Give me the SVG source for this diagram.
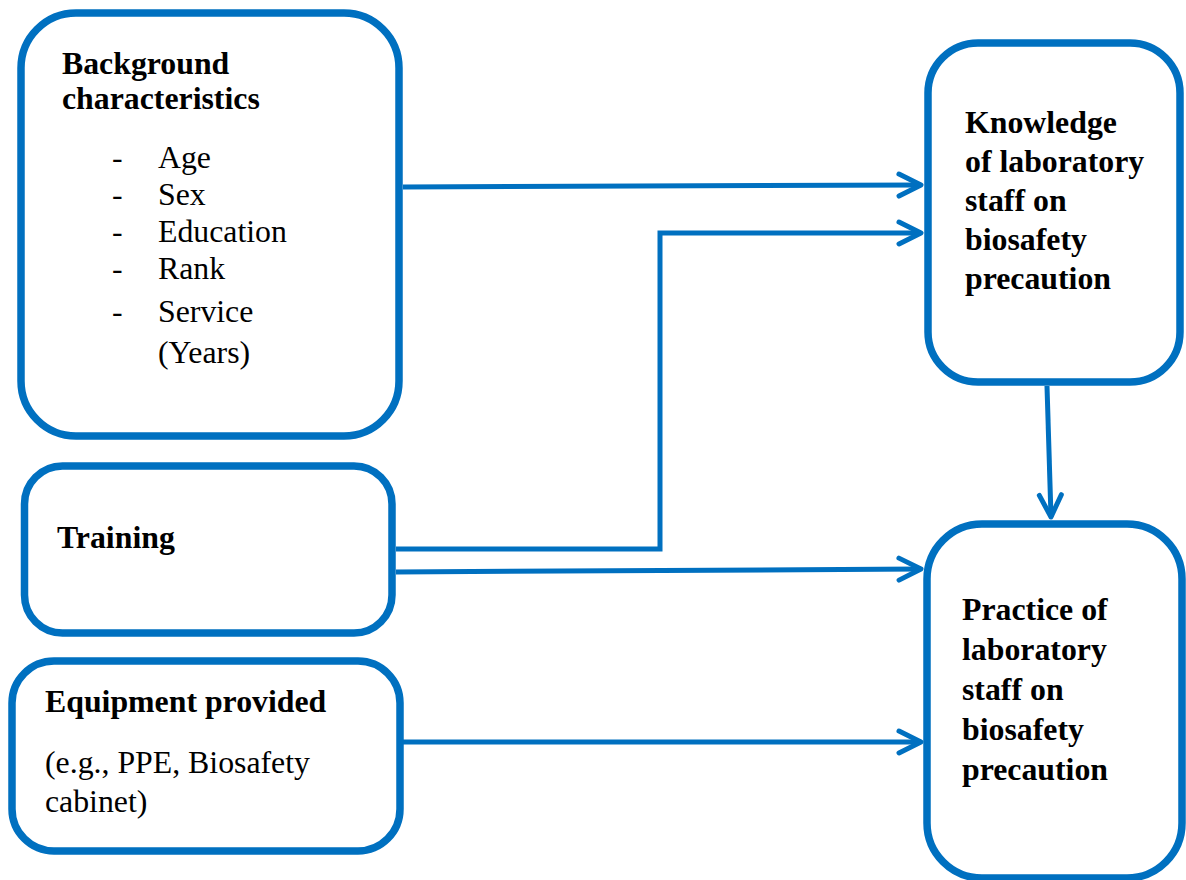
<svg xmlns="http://www.w3.org/2000/svg" width="1186" height="880" viewBox="0 0 1186 880">
<style>
.box{fill:#fff;stroke:#0070C0;stroke-width:7.5}
.b{font-family:"Liberation Serif","Times New Roman",serif;font-weight:bold;font-size:31.8px;fill:#000}
.r{font-family:"Liberation Serif","Times New Roman",serif;font-size:31.8px;fill:#000}
.c{fill:none;stroke:#0070C0;stroke-width:5;marker-end:url(#ah)}
</style>
<defs>
<marker id="ah" markerUnits="userSpaceOnUse" markerWidth="40" markerHeight="40" viewBox="-30 -20 40 40" refX="0" refY="0" orient="auto">
<path d="M-22,-11 L0,0 L-22,11" fill="none" stroke="#0070C0" stroke-width="5" stroke-linecap="round" stroke-linejoin="round"/>
</marker>
</defs>
<rect width="1186" height="880" fill="#fff"/>
<g id="background">
<rect class="box" x="21" y="13" width="378" height="423" rx="55"/>
<text class="b" x="62" y="74">Background</text>
<text class="b" x="62" y="109">characteristics</text>
<g class="r">
<text x="112" y="168">-</text><text x="158" y="168">Age</text>
<text x="112" y="205">-</text><text x="158" y="205">Sex</text>
<text x="112" y="242">-</text><text x="158" y="242">Education</text>
<text x="112" y="279">-</text><text x="158" y="279">Rank</text>
<text x="112" y="322">-</text><text x="158" y="322">Service</text>
<text x="158" y="363">(Years)</text>
</g>
</g>
<g id="training">
<rect class="box" x="24.5" y="466" width="367.5" height="167" rx="38"/>
<text class="b" x="57" y="548">Training</text>
</g>
<g id="equipment">
<rect class="box" x="12" y="661" width="388" height="190" rx="42"/>
<text class="b" x="45" y="712">Equipment provided</text>
<text class="r" x="45" y="773">(e.g., PPE, Biosafety</text>
<text class="r" x="45" y="812">cabinet)</text>
</g>
<g id="knowledge">
<rect class="box" x="928" y="43" width="252" height="339" rx="50"/>
<text class="b" x="965" y="133">Knowledge</text>
<text class="b" x="965" y="172">of laboratory</text>
<text class="b" x="965" y="211">staff on</text>
<text class="b" x="965" y="250">biosafety</text>
<text class="b" x="965" y="289">precaution</text>
</g>
<g id="practice">
<rect class="box" x="927" y="524" width="255" height="354" rx="55"/>
<text class="b" x="962" y="620">Practice of</text>
<text class="b" x="962" y="660">laboratory</text>
<text class="b" x="962" y="700">staff on</text>
<text class="b" x="962" y="740">biosafety</text>
<text class="b" x="962" y="780">precaution</text>
</g>
<g id="connectors">
<path class="c" d="M403,187 L921,185"/>
<path class="c" d="M396,549 L660,549 L660,233 L921,233"/>
<path class="c" d="M396,572 L921,569"/>
<path class="c" d="M403,742 L921,742"/>
<path class="c" d="M1047,386 L1051,517"/>
</g>
</svg>
